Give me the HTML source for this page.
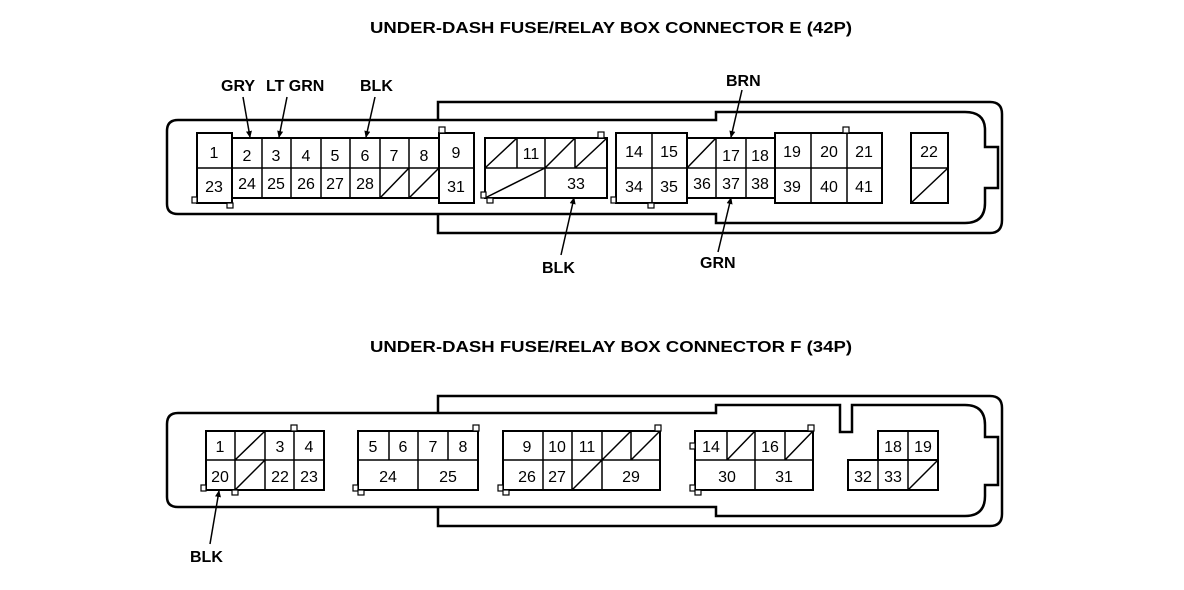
<!DOCTYPE html>
<html><head><style>
html,body{margin:0;padding:0;background:#fff;}
svg{display:block;}
text{font-family:"Liberation Sans",sans-serif;fill:#000;}
.n{font-size:16px;text-anchor:middle;}
.b{font-size:16px;font-weight:bold;}
</style></head><body>
<svg width="1184" height="590" viewBox="0 0 1184 590" xmlns="http://www.w3.org/2000/svg">
<defs>
<marker id="ah" markerWidth="8" markerHeight="8" refX="6" refY="4" orient="auto" markerUnits="userSpaceOnUse">
<path d="M0,1 L7,4 L0,7 z" fill="#000"/>
</marker>
</defs>
<g fill="none" stroke="#000" stroke-width="2.5">
<!-- Connector E shell -->
<path d="M438,120 V102 H990 Q1002,102 1002,114 V220 Q1002,233 990,233 H438 V215"/>
<path d="M438,120 H178 Q167,120 167,131 V204 Q167,214 178,214 H716 V223 H965 Q985,223 985,203 V188 H998 V147 H985 V130 Q985,112 965,112 H716 V120 H438"/>
<!-- Connector F shell -->
<path d="M438,413 V396 H990 Q1002,396 1002,408 V514 Q1002,526 990,526 H438 V507"/>
<path d="M438,413 H178 Q167,413 167,424 V497 Q167,507 178,507 H716 V516 H965 Q985,516 985,496 V485 H998 V437 H985 V425 Q985,405 965,405 H852 V432 H840 V405 H716 V413 H438"/>
</g>
<g fill="#fff" stroke="#000" stroke-width="2">
<!-- E cells -->
<rect x="197" y="133" width="35" height="70"/>
<rect x="232" y="138" width="207" height="60"/>
<rect x="439" y="133" width="35" height="70"/>
<rect x="485" y="138" width="122" height="60"/>
<rect x="616" y="133" width="71" height="70"/>
<rect x="687" y="138" width="88" height="60"/>
<rect x="775" y="133" width="107" height="70"/>
<rect x="911" y="133" width="37" height="70"/>
<!-- F cells -->
<rect x="206" y="431" width="118" height="59"/>
<rect x="358" y="431" width="120" height="59"/>
<rect x="503" y="431" width="157" height="59"/>
<rect x="695" y="431" width="118" height="59"/>
<rect x="878" y="431" width="60" height="29"/>
<rect x="848" y="460" width="90" height="30"/>
</g>
<g stroke="#000" stroke-width="1.5" fill="none">
<!-- E dividers -->
<path d="M197,168 H232 M232,168 H439 M262,138V198 M291,138V198 M321,138V198 M350,138V198 M380,138V198 M409,138V198 M439,168 H474"/>
<path d="M380,198 L409,168 M409,198 L439,168"/>
<path d="M485,168 H607 M517,138V168 M545,138V198 M575,138V168 M485,168 L517,138 M545,168 L575,138 M575,168 L607,138 M485,198 L545,168"/>
<path d="M616,168 H687 M652,133V203 M687,168 H775 M716,138V198 M746,138V198 M687,168 L716,138"/>
<path d="M775,168 H882 M811,133V203 M847,133V203"/>
<path d="M911,168 H948 M911,203 L948,168"/>
<!-- F dividers -->
<path d="M206,460 H324 M235,431V490 M265,431V490 M294,431V490 M235,460 L265,431 M235,490 L265,460"/>
<path d="M358,460 H478 M389,431V460 M418,431V490 M448,431V460"/>
<path d="M503,460 H660 M543,431V490 M572,431V490 M602,431V490 M631,431V460 M602,460 L631,431 M631,460 L660,431 M572,490 L602,460"/>
<path d="M695,460 H813 M727,431V460 M755,431V490 M785,431V460 M727,460 L755,431 M785,460 L813,431"/>
<path d="M908,431V490 M878,460V490 M908,490 L938,460"/>
</g>
<!-- small latches -->
<g fill="#fff" stroke="#000" stroke-width="1.2">
<rect x="192" y="197" width="5" height="6"/><rect x="227" y="203" width="6" height="5"/>
<rect x="439" y="127" width="6" height="6"/><rect x="481" y="192" width="5" height="6"/><rect x="487" y="198" width="6" height="5"/>
<rect x="598" y="132" width="6" height="6"/><rect x="611" y="197" width="5" height="6"/><rect x="648" y="203" width="6" height="5"/>
<rect x="843" y="127" width="6" height="6"/>
<rect x="201" y="485" width="5" height="6"/><rect x="232" y="490" width="6" height="5"/><rect x="291" y="425" width="6" height="6"/>
<rect x="353" y="485" width="5" height="6"/><rect x="358" y="490" width="6" height="5"/><rect x="473" y="425" width="6" height="6"/>
<rect x="498" y="485" width="5" height="6"/><rect x="503" y="490" width="6" height="5"/><rect x="655" y="425" width="6" height="6"/>
<rect x="690" y="443" width="5" height="6"/><rect x="690" y="485" width="5" height="6"/><rect x="695" y="490" width="6" height="5"/><rect x="808" y="425" width="6" height="6"/>
</g>
<!-- E numbers -->
<g class="n">
<text x="214" y="158" class="n">1</text><text x="247" y="161" class="n">2</text><text x="276" y="161" class="n">3</text><text x="306" y="161" class="n">4</text><text x="335" y="161" class="n">5</text><text x="365" y="161" class="n">6</text><text x="394" y="161" class="n">7</text><text x="424" y="161" class="n">8</text><text x="456" y="158" class="n">9</text>
<text x="214" y="192" class="n">23</text><text x="247" y="189" class="n">24</text><text x="276" y="189" class="n">25</text><text x="306" y="189" class="n">26</text><text x="335" y="189" class="n">27</text><text x="365" y="189" class="n">28</text><text x="456" y="192" class="n">31</text>
<text x="531" y="159" class="n">11</text><text x="576" y="189" class="n">33</text>
<text x="634" y="157" class="n">14</text><text x="669" y="157" class="n">15</text><text x="731" y="161" class="n">17</text><text x="760" y="161" class="n">18</text><text x="792" y="157" class="n">19</text><text x="829" y="157" class="n">20</text><text x="864" y="157" class="n">21</text><text x="929" y="157" class="n">22</text>
<text x="634" y="192" class="n">34</text><text x="669" y="192" class="n">35</text><text x="702" y="189" class="n">36</text><text x="731" y="189" class="n">37</text><text x="760" y="189" class="n">38</text><text x="792" y="192" class="n">39</text><text x="829" y="192" class="n">40</text><text x="864" y="192" class="n">41</text>
<!-- F numbers -->
<text x="220" y="452" class="n">1</text><text x="280" y="452" class="n">3</text><text x="309" y="452" class="n">4</text>
<text x="220" y="482" class="n">20</text><text x="280" y="482" class="n">22</text><text x="309" y="482" class="n">23</text>
<text x="373" y="452" class="n">5</text><text x="403" y="452" class="n">6</text><text x="433" y="452" class="n">7</text><text x="463" y="452" class="n">8</text>
<text x="388" y="482" class="n">24</text><text x="448" y="482" class="n">25</text>
<text x="527" y="452" class="n">9</text><text x="557" y="452" class="n">10</text><text x="587" y="452" class="n">11</text>
<text x="527" y="482" class="n">26</text><text x="557" y="482" class="n">27</text><text x="631" y="482" class="n">29</text>
<text x="711" y="452" class="n">14</text><text x="770" y="452" class="n">16</text>
<text x="727" y="482" class="n">30</text><text x="784" y="482" class="n">31</text>
<text x="893" y="452" class="n">18</text><text x="923" y="452" class="n">19</text>
<text x="863" y="482" class="n">32</text><text x="893" y="482" class="n">33</text>
</g>
<!-- titles & labels -->
<text x="370" y="33" class="b" textLength="482" lengthAdjust="spacingAndGlyphs">UNDER-DASH FUSE/RELAY BOX CONNECTOR E (42P)</text>
<text x="370" y="352" class="b" textLength="482" lengthAdjust="spacingAndGlyphs">UNDER-DASH FUSE/RELAY BOX CONNECTOR F (34P)</text>
<text x="221" y="91" class="b">GRY</text>
<text x="266" y="91" class="b">LT GRN</text>
<text x="360" y="91" class="b">BLK</text>
<text x="726" y="86" class="b">BRN</text>
<text x="542" y="273" class="b">BLK</text>
<text x="700" y="268" class="b">GRN</text>
<text x="190" y="562" class="b">BLK</text>
<g stroke="#000" stroke-width="1.5" marker-end="url(#ah)">
<line x1="243" y1="97" x2="250" y2="137"/>
<line x1="287" y1="97" x2="279" y2="137"/>
<line x1="375" y1="97" x2="366" y2="137"/>
<line x1="742" y1="90" x2="731" y2="137"/>
<line x1="561" y1="255" x2="574" y2="198"/>
<line x1="718" y1="252" x2="731" y2="198"/>
<line x1="210" y1="544" x2="219" y2="491"/>
</g>
</svg>
</body></html>
